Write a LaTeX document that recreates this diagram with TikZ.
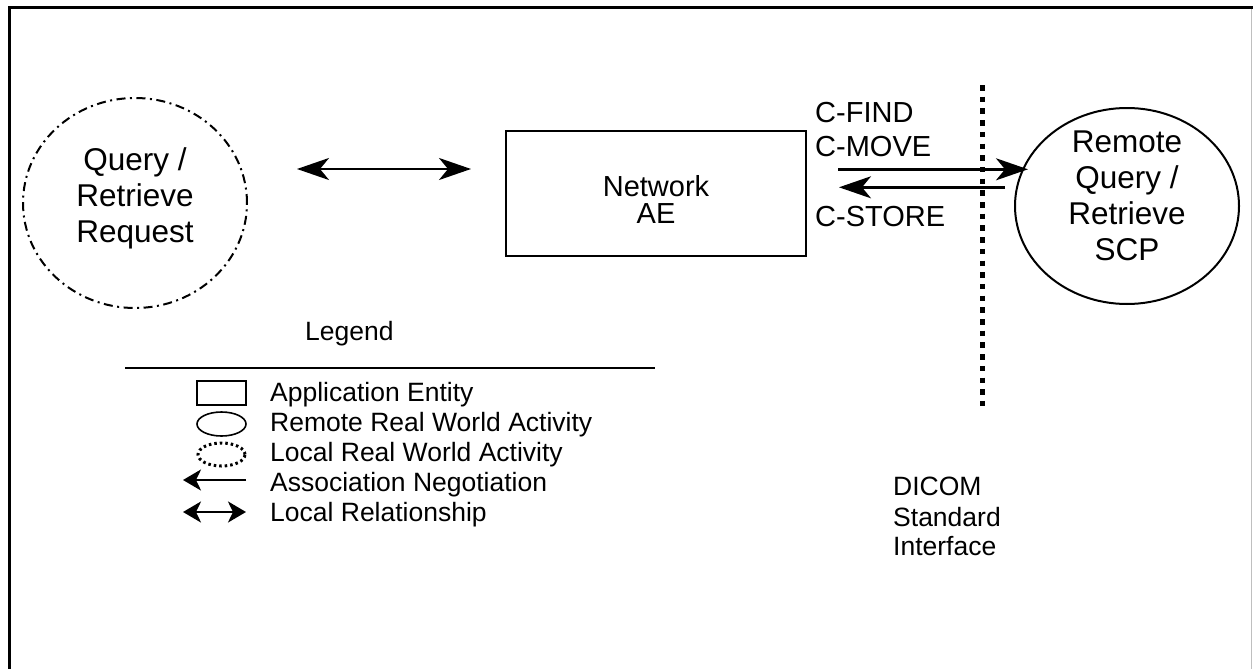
\documentclass[tikz,border=0pt]{standalone}
\usepackage{fontspec}
\setmainfont{Liberation Sans}
\usetikzlibrary{arrows.meta,shapes.geometric}
\begin{document}
\begin{tikzpicture}[x=1pt,y=-1pt,
  bigtxt/.style={font=\fontsize{31.5}{36}\selectfont, align=center, inner sep=0},
  midtxt/.style={font=\fontsize{29}{34}\selectfont, inner sep=0},
  legtxt/.style={font=\fontsize{26.5}{30}\selectfont, anchor=base west, inner sep=0},
  bigtip/.style={line width=2.4pt, -{Stealth[length=32pt,width=22pt,inset=9pt]}},
  dbltip/.style={line width=2.4pt, {Stealth[length=32pt,width=22pt,inset=9pt]}-{Stealth[length=32pt,width=22pt,inset=9pt]}},
  legtip/.style={line width=2.4pt, -{Stealth[length=18pt,width=21pt,inset=5pt]}},
  legdbl/.style={line width=2.4pt, {Stealth[length=18pt,width=21pt,inset=5pt]}-{Stealth[length=18pt,width=21pt,inset=5pt]}},
  shape line/.style={line width=2pt}]
\useasboundingbox (0,0) rectangle (1253,669);
\fill[white] (0,0) rectangle (1253,669);
% frame
\draw[line width=3pt] (9,669) -- (9,8) -- (1253,8);
\draw[black!25, line width=1pt] (1251,9.5) -- (1251,669);

% local real world activity
\node[ellipse, draw, line width=2pt, dash pattern=on 9pt off 4.5pt on 2pt off 4.5pt,
      minimum width=224pt, minimum height=210pt, inner sep=0] (qr) at (135,203) {};
\node[bigtxt] (qrtext) at (135,198) {Query /\\Retrieve\\Request};

% network AE
\node[draw, shape line, minimum width=300pt, minimum height=125pt, inner sep=0] (ae) at (656,193.5) {};
\node[midtxt, align=center, font=\fontsize{29}{27}\selectfont] (aetext) at (656,199) {Network\\AE};

% remote circle
\node[ellipse, draw, shape line, minimum width=224pt, minimum height=196pt, inner sep=0] (scp) at (1127,206) {};
\node[bigtxt] (scptext) at (1127,196) {Remote\\Query /\\Retrieve\\SCP};

% local relationship
\coordinate (lr1) at (297,169);
\coordinate (lr2) at (471,169);
\draw[dbltip] (lr1) -- (lr2);

% DICOM messages
\node[midtxt, anchor=base west] (cfind) at (815,122.7) {C-FIND};
\node[midtxt, anchor=base west] (cmove) at (815,156.7) {C-MOVE};
\node[midtxt, anchor=base west] (cstore) at (815,226.7) {C-STORE};
\coordinate (m1) at (838,169.3);
\coordinate (m2) at (1028,169.3);
\coordinate (s1) at (1005,187.3);
\coordinate (s2) at (839,187.3);
\draw[bigtip] (m1) -- (m2);
\draw[bigtip] (s1) -- (s2);

% interface boundary
\coordinate (b1) at (982,85);
\coordinate (b2) at (982,409);
\draw[line width=5pt, dash pattern=on 5.5pt off 6.2pt] (b1) -- (b2);
\node[legtxt] (dicom1) at (893,495) {DICOM};
\node[legtxt] (dicom2) at (893,526.7) {Standard};
\node[legtxt] (dicom3) at (893,555) {Interface};

% legend
\node[legtxt] (legend) at (305,340) {Legend};
\coordinate (l1) at (125,368);
\coordinate (l2) at (655,368);
\draw[line width=1.8pt] (l1) -- (l2);

\node[draw, line width=1.6pt, minimum width=49pt, minimum height=24pt, inner sep=0] (symae) at (221.5,393) {};
\node[ellipse, draw, line width=1.6pt, minimum width=49pt, minimum height=24pt, inner sep=0] (symrem) at (221.5,424) {};
\node[ellipse, draw, line width=3pt, dash pattern=on 2.5pt off 3pt, minimum width=47pt, minimum height=23pt, inner sep=0] (symloc) at (221.5,454.5) {};
\coordinate (la1) at (246,480);
\coordinate (la2) at (183,480);
\draw[legtip] (la1) -- (la2);
\coordinate (ld1) at (183,512);
\coordinate (ld2) at (246,512);
\draw[legdbl] (ld1) -- (ld2);

\node[legtxt] (t1) at (270,401.7) {Application Entity};
\node[legtxt] (t2) at (270,431) {Remote Real World Activity};
\node[legtxt] (t3) at (270,461.7) {Local Real World Activity};
\node[legtxt] (t4) at (270,491.7) {Association Negotiation};
\node[legtxt] (t5) at (270,521) {Local Relationship};
\end{tikzpicture}
\end{document}
